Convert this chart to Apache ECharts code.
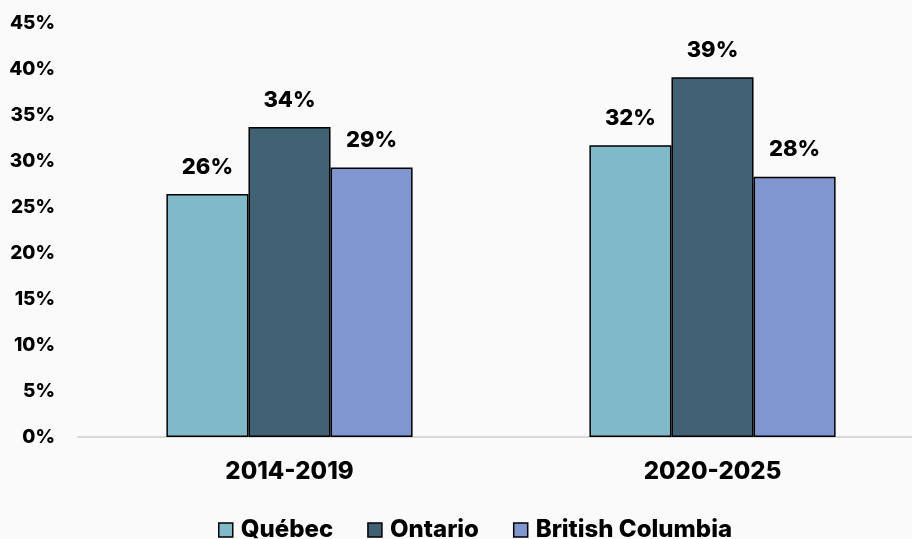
<!DOCTYPE html>
<html>
<head>
<meta charset="utf-8">
<script src="https://cdn.jsdelivr.net/npm/echarts@6/dist/echarts.min.js"></script>
<style>
  html, body { margin: 0; padding: 0; background: #fafafa; }
  #chart { width: 912px; height: 539px; }
</style>
</head>
<body>
<div id="chart"></div>
<script>
const periods = ['2014-2019', '2020-2025'];
const quebec = [26.4, 31.7];
const ontario = [33.7, 39.1];
const britishColumbia = [29.3, 28.3];
const yTicks = [0, 5, 10, 15, 20, 25, 30, 35, 40, 45];

const FONT = 'Inter, "Liberation Sans", Arial, sans-serif';
const WEIGHT = 800;
const chart = echarts.init(document.getElementById('chart'));

const labelStyle = {
  show: true,
  position: 'top',
  distance: 16,
  formatter: p => Math.round(p.value) + '%',
  color: '#000',
  fontFamily: FONT,
  fontWeight: WEIGHT,
  fontSize: 22
};

function bar(name, data, color) {
  return {
    name: name,
    type: 'bar',
    data: data,
    barGap: '0%',
    barCategoryGap: '41.8%',
    itemStyle: { color: color, borderColor: '#000', borderWidth: 1.5 },
    label: labelStyle
  };
}

chart.setOption({
  backgroundColor: '#fafafa',
  animation: false,
  grid: { left: 78, width: 846, top: 23, bottom: 102, outerBoundsMode: 'none' },
  legend: {
    top: 513,
    left: 213,
    itemWidth: 14,
    itemHeight: 14,
    itemGap: 34,
    icon: 'rect',
    itemStyle: { borderColor: '#000', borderWidth: 1.5 },
    textStyle: {
      color: '#000',
      fontFamily: FONT,
      fontWeight: WEIGHT,
      fontSize: 24,
      padding: [0, 0, 0, 3]
    }
  },
  xAxis: {
    type: 'category',
    data: periods,
    axisLine: { lineStyle: { color: '#d9d9d9', width: 2 } },
    axisTick: { show: false },
    axisLabel: {
      margin: 23,
      color: '#000',
      fontFamily: FONT,
      fontWeight: WEIGHT,
      fontSize: 24
    }
  },
  yAxis: {
    type: 'value',
    min: yTicks[0],
    max: yTicks[yTicks.length - 1],
    interval: 5,
    splitLine: { show: false },
    axisLine: { show: false },
    axisTick: { show: false },
    axisLabel: {
      margin: 23,
      formatter: v => v + '%',
      color: '#000',
      fontFamily: FONT,
      fontWeight: WEIGHT,
      fontSize: 19
    }
  },
  series: [
    bar('Québec', quebec, '#80b9c8'),
    bar('Ontario', ontario, '#406274'),
    bar('British Columbia', britishColumbia, '#7f96d0')
  ]
});
</script>
</body>
</html>
